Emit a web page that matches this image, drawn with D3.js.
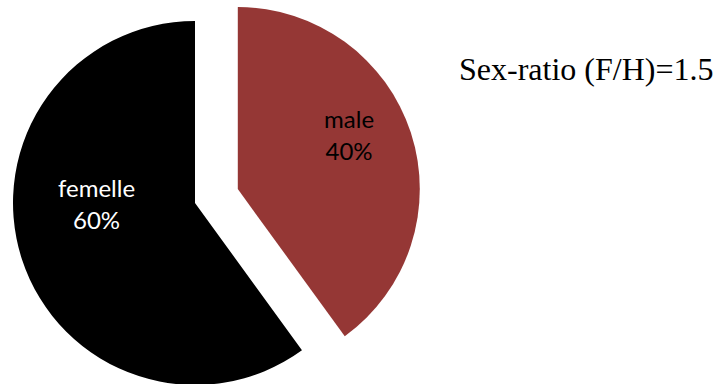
<!DOCTYPE html>
<html>
<meta charset="utf-8">
<title>Sex-ratio</title>
<style>
	body {
		margin: 0;
		background: #fff;
	}

	.label text {
		font: 24px Lato, "Open Sans", sans-serif;
		text-anchor: middle;
	}

	.title {
		font: 32px "Liberation Serif", "Times New Roman", serif;
	}
</style>

<body>
	<script src="https://cdnjs.cloudflare.com/ajax/libs/d3/7.8.5/d3.min.js"></script>
	<script>
		// data
		var categories = ["male", "femelle"];
		var percents = [40, 60];
		var colors = ["#953735", "#000000"];
		var textColors = ["#000000", "#ffffff"];
		var title = "Sex-ratio (F/H)=1.5";

		var width = 716,
			height = 384,
			radius = 182,
			center = [195, 203],
			explode = [45, 0];   // offset of each slice along its mid angle

		// where Excel dropped the labels (angle in degrees from top, distance from slice tip)
		var labelPolar = [[68, 120], [264, 99]];

		var svg = d3.select("body").append("svg")
			.attr("width", width)
			.attr("height", height);

		var pie = d3.pie()
			.sort(null)
			.value(function (d) { return d; });

		var arc = d3.arc()
			.innerRadius(0)
			.outerRadius(radius);

		var slices = pie(percents);

		var g = svg.append("g")
			.attr("transform", "translate(" + center[0] + "," + center[1] + ")");

		var slice = g.selectAll(".slice")
			.data(slices)
			.enter().append("g")
			.attr("class", "slice")
			.attr("transform", function (d, i) {
				var a = (d.startAngle + d.endAngle) / 2;
				return "translate(" + (Math.sin(a) * explode[i]) + "," + (-Math.cos(a) * explode[i]) + ")";
			});

		slice.append("path")
			.attr("d", arc)
			.style("fill", function (d, i) { return colors[i]; });

		var label = slice.append("g")
			.attr("class", "label")
			.attr("transform", function (d, i) {
				var a = labelPolar[i][0] * Math.PI / 180,
					r = labelPolar[i][1];
				return "translate(" + (Math.sin(a) * r) + "," + (-Math.cos(a) * r) + ")";
			});

		label.append("text")
			.attr("y", -16)
			.style("fill", function (d, i) { return textColors[i]; })
			.text(function (d, i) { return categories[i]; });

		label.append("text")
			.attr("y", 16)
			.style("fill", function (d, i) { return textColors[i]; })
			.text(function (d) { return d.value + "%"; });

		svg.append("text")
			.attr("class", "title")
			.attr("x", 459)
			.attr("y", 80)
			.text(title);
	</script>
</body>
</html>
